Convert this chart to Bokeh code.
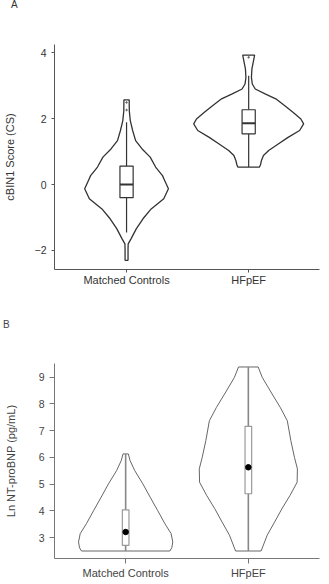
from bokeh.plotting import figure
from bokeh.layouts import column
from bokeh.models import FixedTicker, Range1d, Div
from bokeh.embed import file_html
from bokeh.resources import INLINE

# ---------------- data ----------------
groups = ["Matched Controls", "HFpEF"]

# Panel A: cBIN1 score violins (value, relative density)
a_ctrl_y = [2.57, 2.24, 1.94, 1.64, 1.33, 1.08, 0.83, 0.53, 0.27, 0.17, -0.13,
            -0.43, -0.74, -1.04, -1.34, -1.65, -1.80, -1.95, -2.30]
a_ctrl_d = [0.048, 0.050, 0.068, 0.111, 0.165, 0.283, 0.430, 0.529, 0.654, 0.681,
            0.762, 0.677, 0.448, 0.299, 0.179, 0.081, 0.030, 0.027, 0.027]
a_hf_y = [3.93, 3.81, 3.51, 3.25, 3.05, 2.90, 2.75, 2.60, 2.39, 2.19, 1.99, 1.84,
          1.64, 1.43, 1.23, 1.03, 0.88, 0.73, 0.60, 0.53]
a_hf_d = [0.108, 0.095, 0.059, 0.050, 0.066, 0.120, 0.299, 0.493, 0.658, 0.806,
          0.950, 1.000, 0.927, 0.717, 0.538, 0.364, 0.269, 0.233, 0.215, 0.197]
# boxplots A: [lower whisker, q1, median, q3, upper whisker]
a_ctrl_box = [-1.46, -0.40, 0.00, 0.56, 1.89]
a_hf_box = [0.53, 1.54, 1.86, 2.27, 3.30]
a_ctrl_out = [2.26, 2.49]
a_hf_out = [3.86]
a_ticks = [-2, 0, 2, 4]

# Panel B: Ln NT-proBNP violins
b_ctrl_y = [6.13, 5.88, 5.51, 5.01, 4.51, 4.02, 3.52, 3.15, 2.84, 2.62, 2.50]
b_ctrl_d = [0.054, 0.090, 0.184, 0.350, 0.500, 0.650, 0.800, 0.926, 0.960, 0.940, 0.900]
b_hf_y = [9.38, 8.99, 8.37, 7.87, 7.37, 6.63, 6.00, 5.57, 5.07, 4.58, 4.08, 3.58, 3.09, 2.50]
b_hf_d = [0.200, 0.284, 0.484, 0.650, 0.794, 0.866, 0.940, 1.000, 0.994, 0.850,
          0.684, 0.534, 0.384, 0.260]
# boxes B: [min, q1, median, q3, max]
b_ctrl_box = [2.50, 2.71, 3.21, 4.04, 6.13]
b_hf_box = [2.50, 4.64, 5.63, 7.16, 9.38]
b_ticks = [3, 4, 5, 6, 7, 8, 9]

FONT = "Liberation Sans"


def violin_xy(center, ys, ds, maxhalf):
    right = [center + d * maxhalf for d in ds]
    left = [center - d * maxhalf for d in ds]
    return right + left[::-1], list(ys) + list(ys)[::-1]


def style(p, ticks, tick_font, label_standoff, tick_in_out, axis_col, text_col):
    p.xgrid.visible = False
    p.ygrid.visible = False
    p.outline_line_color = None
    p.xaxis.ticker = FixedTicker(ticks=[1, 2])
    p.xaxis.major_label_overrides = {1: groups[0], 2: groups[1]}
    p.yaxis.ticker = FixedTicker(ticks=ticks)
    for ax in (p.xaxis, p.yaxis):
        ax.axis_line_color = axis_col
        ax.major_tick_line_color = axis_col
        ax.minor_tick_line_color = None
        ax.major_tick_in = 0
        ax.major_tick_out = tick_in_out
        ax.major_label_text_font = FONT
        ax.major_label_text_color = text_col
        ax.axis_label_text_font = FONT
        ax.axis_label_text_font_style = "normal"
        ax.axis_label_text_color = text_col
        ax.axis_label_text_font_size = "11px"
    p.xaxis.major_label_text_font_size = "11px"
    p.yaxis.major_label_text_font_size = tick_font
    p.yaxis.axis_label_standoff = label_standoff


def panel_letter(txt, color, top_margin, left_margin):
    return Div(text=txt, width=20, height=10, margin=(top_margin, 0, 0, left_margin),
               styles={"font-family": FONT, "font-size": "10px", "line-height": "10px",
                       "color": color})


# ---------------- Panel A ----------------
pa = figure(width=329, height=290, output_backend="svg", toolbar_location=None,
            x_range=Range1d(0.41, 2.58), y_range=Range1d(-2.58, 4.25),
            min_border_left=50, min_border_right=10, min_border_top=34,
            min_border_bottom=31)
pa.yaxis.axis_label = "cBIN1 Score (CS)"
style(pa, a_ticks, "10.5px", 16, 3, "#555555", "#333333")
pa.xaxis.major_label_standoff = 1

MAXA = 0.45
BOXA = 0.054
LA = "#333333"
for c, ys, ds, box, outs in [(1, a_ctrl_y, a_ctrl_d, a_ctrl_box, a_ctrl_out),
                             (2, a_hf_y, a_hf_d, a_hf_box, a_hf_out)]:
    vx, vy = violin_xy(c, ys, ds, MAXA)
    pa.patch(vx, vy, fill_color="white", line_color=LA, line_width=1.3)
    pa.segment(x0=[c, c], y0=[box[0], box[3]], x1=[c, c], y1=[box[1], box[4]],
               line_color=LA, line_width=1.2)
    pa.quad(left=[c - BOXA], right=[c + BOXA], bottom=[box[1]], top=[box[3]],
            fill_color="white", line_color=LA, line_width=1.2)
    pa.segment(x0=[c - BOXA], x1=[c + BOXA], y0=[box[2]], y1=[box[2]],
               line_color=LA, line_width=2)
    pa.scatter(x=[c] * len(outs), y=outs, size=1.5, color="#666666")

# ---------------- Panel B ----------------
pb = figure(width=329, height=254, output_backend="svg", toolbar_location=None,
            x_range=Range1d(0.42, 2.58), y_range=Range1d(2.22, 9.51),
            min_border_left=53, min_border_right=6, min_border_top=33,
            min_border_bottom=26)
pb.yaxis.axis_label = "Ln NT-proBNP (pg/mL)"
style(pb, b_ticks, "10.5px", 19, 5, "#777777", "#444444")
pb.xaxis.major_label_standoff = 3
pb.yaxis.major_label_standoff = 5

MAXB = 0.40
BOXB = 0.027
for c, ys, ds, box in [(1, b_ctrl_y, b_ctrl_d, b_ctrl_box),
                       (2, b_hf_y, b_hf_d, b_hf_box)]:
    vx, vy = violin_xy(c, ys, ds, MAXB)
    pb.patch(vx, vy, fill_color="white", line_color="#555555", line_width=0.9)
    pb.segment(x0=[c], y0=[box[0]], x1=[c], y1=[box[4]],
               line_color="#888888", line_width=1.6)
    pb.quad(left=[c - BOXB], right=[c + BOXB], bottom=[box[1]], top=[box[3]],
            fill_color="white", line_color="#999999", line_width=1.2)
    pb.scatter(x=[c], y=[box[2]], size=5.5, color="black")

div_a = panel_letter("A", "#333333", 0, 11)
div_b = panel_letter("B", "#444444", 20, 3)

layout = column(div_a, pa, div_b, pb, spacing=0)
open("out.html", "w").write(file_html(layout, INLINE))
